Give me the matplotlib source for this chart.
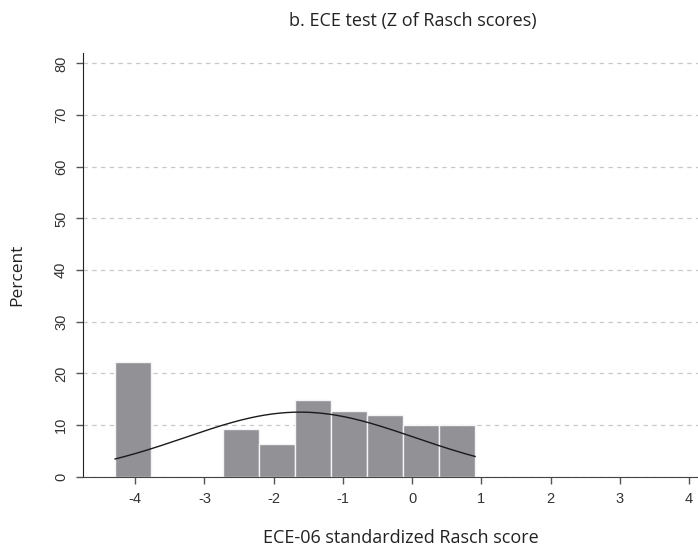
import numpy as np
import matplotlib
matplotlib.use("Agg")
import matplotlib.pyplot as plt

# histogram of standardized Rasch scores (percent per bin)
bin_start = -4.29
bin_width = 0.52
percent = [22.2, 0.0, 0.0, 9.3, 6.3, 14.8, 12.7, 11.9, 10.0, 10.0]

# normal curve fitted over the data range
norm_mean = -1.62
norm_sd = 1.66

xticks = [-4, -3, -2, -1, 0, 1, 2, 3, 4]
yticks = [0, 10, 20, 30, 40, 50, 60, 70, 80]

fig = plt.figure(figsize=(6.98, 5.5), dpi=100)
ax = fig.add_axes([0.1193, 0.1333, 0.8807, 0.7703])

edges = bin_start + bin_width * np.arange(len(percent) + 1)
ax.bar(edges[:-1], percent, width=bin_width, align="edge",
       color="#919196", edgecolor="#f4f4f4", linewidth=1.0, zorder=2)

xs = np.linspace(edges[0], edges[-1], 200)
ys = 100 * bin_width * np.exp(-0.5 * ((xs - norm_mean) / norm_sd) ** 2) / (norm_sd * np.sqrt(2 * np.pi))
ax.plot(xs, ys, color="#1a1a1a", linewidth=1.0, zorder=3)

ax.set_xlim(-4.75, 4.13)
ax.set_ylim(0, 82)
ax.set_xticks(xticks)
ax.set_yticks(yticks)
ax.set_xticklabels([str(t) for t in xticks], family="Liberation Sans", fontsize=10.5, color="#333333")
ax.set_yticklabels([str(t) for t in yticks], family="Liberation Sans", fontsize=10.5, color="#333333",
                   rotation=90, va="center")
ax.tick_params(axis="both", direction="out", length=5, width=1, color="#555555", pad=6)

ax.grid(axis="y", linestyle=(0, (3.5, 3.5)), color="#c8c8c8", linewidth=0.9, zorder=0)
ax.set_axisbelow(True)
for s in ["top", "right"]:
    ax.spines[s].set_visible(False)
ax.spines["left"].set_color("#222222")
ax.spines["bottom"].set_color("#444444")

fig.text(0.592, 0.962, "b. ECE test (Z of Rasch scores)", ha="center", va="center",
         family="Open Sans", fontsize=13, color="#222222")
fig.text(0.575, 0.022, "ECE-06 standardized Rasch score", ha="center", va="center",
         family="Open Sans", fontsize=13, color="#222222")
fig.text(0.024, 0.5, "Percent", ha="center", va="center", rotation=90,
         family="Open Sans", fontsize=12.5, color="#222222")

fig.savefig("out.png", dpi=100)
